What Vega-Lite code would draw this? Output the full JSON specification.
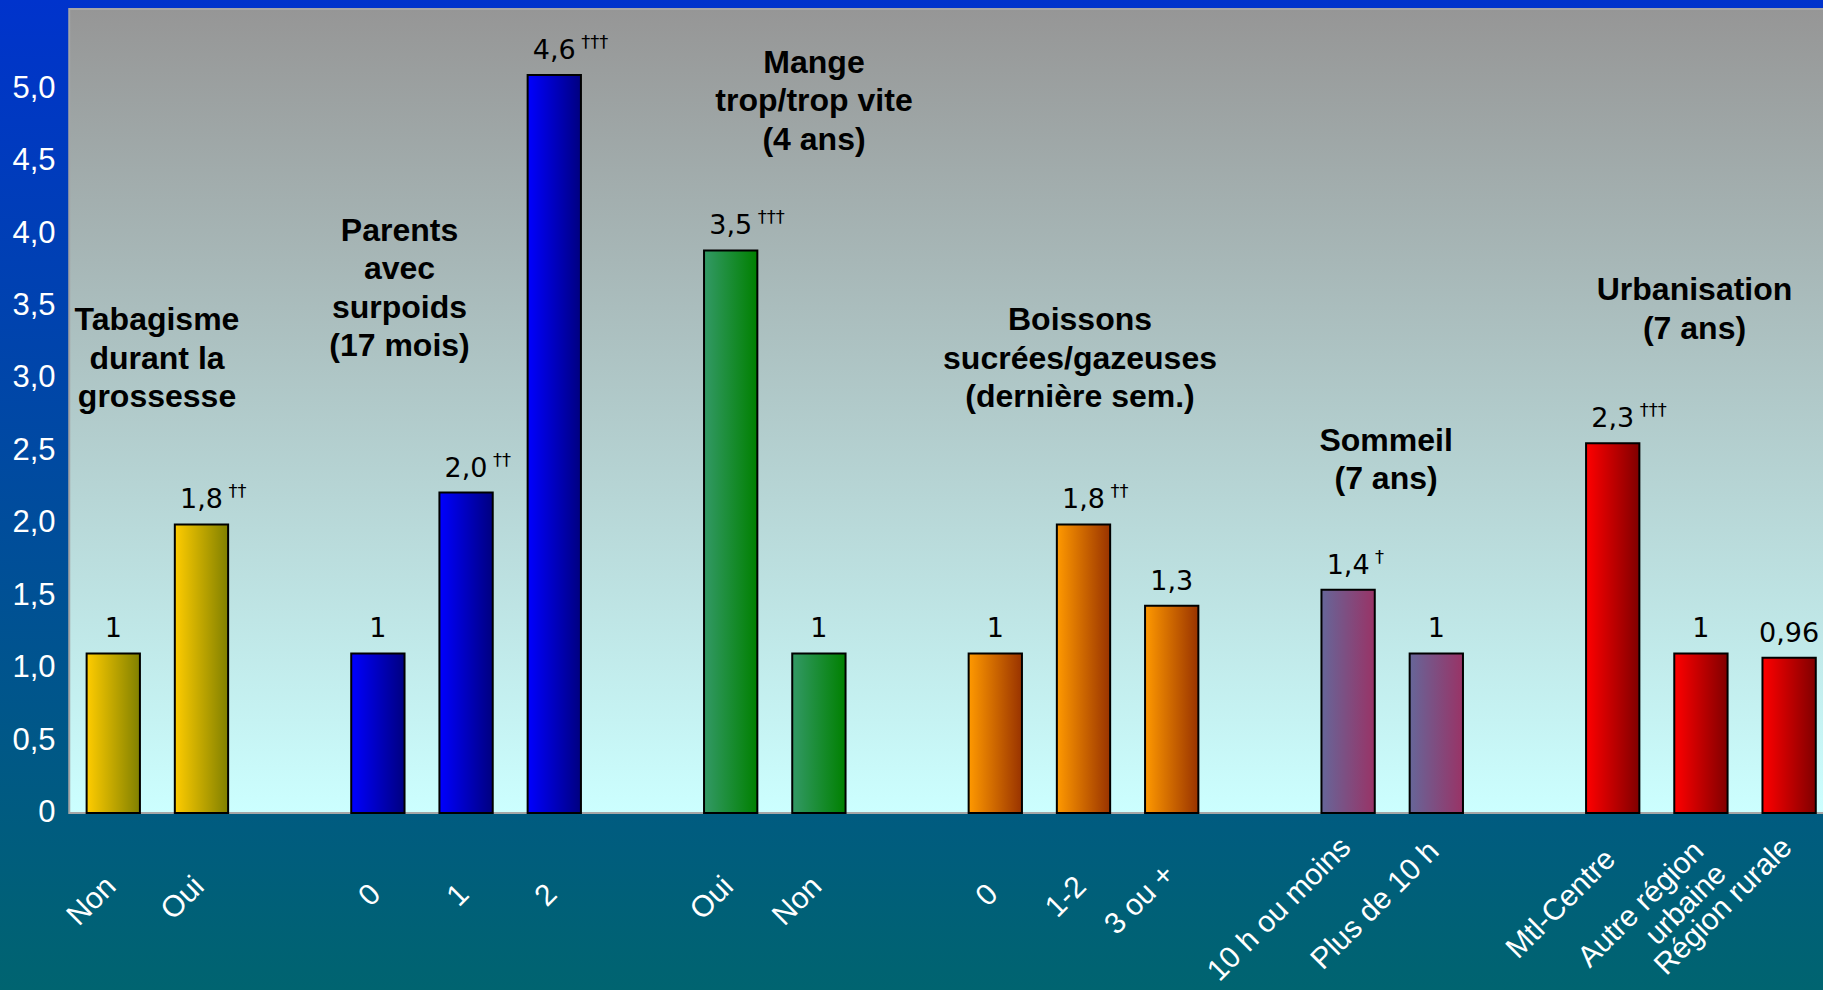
{
  "$schema": "https://vega.github.io/schema/vega-lite/v6.json",
  "width": 1823,
  "height": 990,
  "autosize": {"type": "none"},
  "padding": 0,
  "background": "#004c9e",
  "config": {
    "font": "Liberation Sans",
    "view": {
      "stroke": null,
      "fill": {"gradient": "linear", "x1": 0, "y1": 0, "x2": 0, "y2": 1,
        "stops": [{"offset": 0, "color": "#0033cc"}, {"offset": 1, "color": "#006470"}]}
    }
  },
  "datasets": {
    "bars": [
      {"key": "Tabagisme|Non", "grp": "tab", "h": 1.1, "lab": "1", "sig": ""},
      {"key": "Tabagisme|Oui", "grp": "tab", "h": 1.99, "lab": "1,8", "sig": "††"},
      {"key": "Parents|0", "grp": "par", "h": 1.1, "lab": "1", "sig": ""},
      {"key": "Parents|1", "grp": "par", "h": 2.21, "lab": "2,0", "sig": "††"},
      {"key": "Parents|2", "grp": "par", "h": 5.09, "lab": "4,6", "sig": "†††"},
      {"key": "Mange|Oui", "grp": "man", "h": 3.88, "lab": "3,5", "sig": "†††"},
      {"key": "Mange|Non", "grp": "man", "h": 1.1, "lab": "1", "sig": ""},
      {"key": "Boissons|0", "grp": "boi", "h": 1.1, "lab": "1", "sig": ""},
      {"key": "Boissons|1-2", "grp": "boi", "h": 1.99, "lab": "1,8", "sig": "††"},
      {"key": "Boissons|3 ou +", "grp": "boi", "h": 1.43, "lab": "1,3", "sig": ""},
      {"key": "Sommeil|10 h ou moins", "grp": "som", "h": 1.54, "lab": "1,4", "sig": "†"},
      {"key": "Sommeil|Plus de 10 h", "grp": "som", "h": 1.1, "lab": "1", "sig": ""},
      {"key": "Urbanisation|Mtl-Centre", "grp": "urb", "h": 2.55, "lab": "2,3", "sig": "†††"},
      {"key": "Urbanisation|Autre région|urbaine", "grp": "urb", "h": 1.1, "lab": "1", "sig": ""},
      {"key": "Urbanisation|Région rurale", "grp": "urb", "h": 1.07, "lab": "0,96", "sig": ""}
    ],
    "titles": [
      {"t": "Tabagisme\ndurant la\ngrossesse", "x": 0.495, "y": 3.5},
      {"t": "Parents\navec\nsurpoids\n(17 mois)", "x": 3.244, "y": 4.12},
      {"t": "Mange\ntrop/trop vite\n(4 ans)", "x": 7.944, "y": 5.279},
      {"t": "Boissons\nsucrées/gazeuses\n(dernière sem.)", "x": 10.96, "y": 3.5},
      {"t": "Sommeil\n(7 ans)", "x": 14.43, "y": 2.672},
      {"t": "Urbanisation\n(7 ans)", "x": 17.927, "y": 3.707}
    ]
  },
  "resolve": {"scale": {"x": "independent"}, "axis": {"x": "independent"}},
  "layer": [
    {
      "data": {"values": [{}]},
      "mark": {"type": "rect", "stroke": "#a6a6a6", "strokeWidth": 2,
        "fill": {"gradient": "linear", "x1": 0, "y1": 0, "x2": 0, "y2": 1,
          "stops": [{"offset": 0, "color": "#969696"}, {"offset": 1, "color": "#ccffff"}]}},
      "encoding": {
        "x": {"datum": -0.5, "type": "quantitative", "scale": {"domain": [-1.2852, 19.3837], "nice": false, "zero": false}, "axis": null},
        "x2": {"datum": 19.5},
        "y": {"datum": 0, "type": "quantitative",
          "scale": {"domain": [-1.2207, 5.6069], "nice": false, "zero": false}},
        "y2": {"datum": 5.545}
      }
    },
    {
      "data": {"name": "bars"},
      "encoding": {
        "x": {"field": "key", "type": "nominal",
          "scale": {"type": "band", "domain": ["Tabagisme|Non", "Tabagisme|Oui", "g1", "Parents|0", "Parents|1", "Parents|2", "g2", "Mange|Oui", "Mange|Non", "g3", "Boissons|0", "Boissons|1-2", "Boissons|3 ou +", "g4", "Sommeil|10 h ou moins", "Sommeil|Plus de 10 h", "g5", "Urbanisation|Mtl-Centre", "Urbanisation|Autre région|urbaine", "Urbanisation|Région rurale"],
            "paddingInner": 0.3957, "paddingOuter": 0.532, "align": 0.923, "round": false},
          "axis": {"title": null, "orient": "bottom", "offset": -177, "labelAngle": -45, "labelAlign": "right", "labelBaseline": "middle",
            "labelExpr": "slice(split(datum.value, '|'), 1)",
            "labelColor": "white", "labelFont": "Liberation Sans", "labelFontSize": 30, "labelLineHeight": 32, "labelLimit": 0,
            "labelPadding": 60, "labelOffset": -2, "ticks": false, "domain": false, "grid": false, "zindex": 1,
            "labelOverlap": false, "labelFlush": false, "labelBound": false,
            "encoding": {"labels": {"y": {"value": {"expr": "80 - 3.9*length(slice(split(datum.value, '|'), 1)[0] || '')"}}}}}
        },
        "y": {"field": "h", "type": "quantitative", "scale": {"domain": [-1.2207, 5.6069], "nice": false, "zero": false},
          "axis": {"title": null, "orient": "left", "offset": -69, "values": [0, 0.5, 1, 1.5, 2, 2.5, 3, 3.5, 4, 4.5, 5],
            "labelExpr": "datum.value == 0 ? '0' : replace(format(datum.value, '.1f'), '.', ',')",
            "labelColor": "white", "labelFont": "Liberation Sans", "labelFontSize": 31, "labelAlign": "right", "labelBaseline": "middle",
            "labelPadding": 14, "ticks": false, "domain": false, "grid": false, "zindex": 1, "labelOverlap": false, "labelFlush": false, "labelBound": false}}
      },
      "layer": [
        {"transform": [{"filter": "datum.grp == 'tab'"}],
         "mark": {"type": "bar", "stroke": "black", "strokeWidth": 2,
           "fill": {"gradient": "linear", "x1": 0, "y1": 0, "x2": 1, "y2": 0, "stops": [{"offset": 0, "color": "#ffcc00"}, {"offset": 1, "color": "#808000"}]}},
         "encoding": {"y2": {"datum": 0}}},
        {"transform": [{"filter": "datum.grp == 'par'"}],
         "mark": {"type": "bar", "stroke": "black", "strokeWidth": 2,
           "fill": {"gradient": "linear", "x1": 0, "y1": 0, "x2": 1, "y2": 0, "stops": [{"offset": 0, "color": "#0000ff"}, {"offset": 1, "color": "#000080"}]}},
         "encoding": {"y2": {"datum": 0}}},
        {"transform": [{"filter": "datum.grp == 'man'"}],
         "mark": {"type": "bar", "stroke": "black", "strokeWidth": 2,
           "fill": {"gradient": "linear", "x1": 0, "y1": 0, "x2": 1, "y2": 0, "stops": [{"offset": 0, "color": "#339966"}, {"offset": 1, "color": "#008000"}]}},
         "encoding": {"y2": {"datum": 0}}},
        {"transform": [{"filter": "datum.grp == 'boi'"}],
         "mark": {"type": "bar", "stroke": "black", "strokeWidth": 2,
           "fill": {"gradient": "linear", "x1": 0, "y1": 0, "x2": 1, "y2": 0, "stops": [{"offset": 0, "color": "#ff9900"}, {"offset": 1, "color": "#993300"}]}},
         "encoding": {"y2": {"datum": 0}}},
        {"transform": [{"filter": "datum.grp == 'som'"}],
         "mark": {"type": "bar", "stroke": "black", "strokeWidth": 2,
           "fill": {"gradient": "linear", "x1": 0, "y1": 0, "x2": 1, "y2": 0, "stops": [{"offset": 0, "color": "#666699"}, {"offset": 1, "color": "#993366"}]}},
         "encoding": {"y2": {"datum": 0}}},
        {"transform": [{"filter": "datum.grp == 'urb'"}],
         "mark": {"type": "bar", "stroke": "black", "strokeWidth": 2,
           "fill": {"gradient": "linear", "x1": 0, "y1": 0, "x2": 1, "y2": 0, "stops": [{"offset": 0, "color": "#ff0000"}, {"offset": 1, "color": "#800000"}]}},
         "encoding": {"y2": {"datum": 0}}},
        {"mark": {"type": "text", "align": "center", "baseline": "alphabetic", "dy": -16, "fontSize": 27, "font": "DejaVu Sans", "color": "black"},
         "encoding": {"text": {"field": "lab"}}},
        {"transform": [{"filter": "datum.sig != ''"}],
         "mark": {"type": "text", "align": "left", "baseline": "alphabetic", "dx": 27, "dy": -27, "fontSize": 18, "font": "DejaVu Sans", "color": "black"},
         "encoding": {"text": {"field": "sig"}}}
      ]
    },
    {
      "data": {"name": "titles"},
      "mark": {"type": "text", "align": "center", "baseline": "top", "lineBreak": "\n", "lineHeight": 38.5, "fontSize": 32, "fontWeight": "bold", "font": "Liberation Sans", "color": "black"},
      "encoding": {
        "x": {"field": "x", "type": "quantitative", "scale": {"domain": [-1.2852, 19.3837], "nice": false, "zero": false}, "axis": null},
        "y": {"field": "y", "type": "quantitative", "scale": {"domain": [-1.2207, 5.6069], "nice": false, "zero": false}},
        "text": {"field": "t"}
      }
    }
  ]
}
